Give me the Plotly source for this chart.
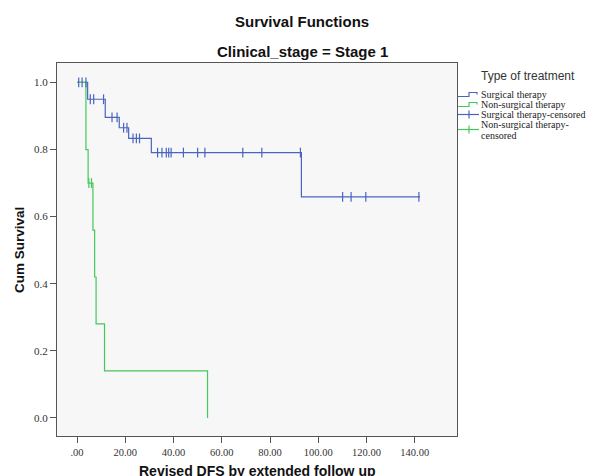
import plotly.graph_objects as go

# ---------------- data ----------------
surg_times = [0, 4.4, 11.7, 17.5, 21.4, 30.8, 93.0, 142.2]
surg_surv = [1.0, 0.950, 0.896, 0.865, 0.833, 0.791, 0.659, 0.659]
surg_censored = [0.7, 2.1, 3.7, 5.5, 6.9, 11.0, 14.5, 16.6, 19.3, 20.7, 23.2, 24.6,
                 25.9, 33.4, 35.2, 37.0, 38.0, 39.0, 44.1, 50.0, 53.0, 68.7, 76.6,
                 92.6, 110.1, 113.6, 119.7, 141.7]

nonsurg_times = [0, 3.7, 4.6, 6.6, 7.3, 7.9, 11.4, 54.1]
nonsurg_surv = [1.0, 0.8, 0.7, 0.56, 0.42, 0.28, 0.14, 0.0]
nonsurg_censored = [4.9, 6.0]

x_ticks = [0, 20, 40, 60, 80, 100, 120, 140]
x_ticklabels = [".00", "20.00", "40.00", "60.00", "80.00", "100.00", "120.00", "140.00"]
y_ticks = [0.0, 0.2, 0.4, 0.6, 0.8, 1.0]
y_ticklabels = ["0.0", "0.2", "0.4", "0.6", "0.8", "1.0"]

legend_title = "Type of treatment"
legend_labels = ["Surgical therapy", "Non-surgical therapy",
                 "Surgical therapy-censored", "Non-surgical therapy-"]
legend_wrap = "censored"

BLUE = "#4a64c2"
GREEN = "#45c85a"


def step_value(times, surv, t):
    v = surv[0]
    for ti, si in zip(times, surv):
        if ti <= t:
            v = si
    return v


# ---------------- geometry (page body has an 8px margin) ----------------
OFF = 8
W, H = 595 - OFF, 476 - OFF
L, R, T, B = 57, 457, 63, 436   # plot box in window pixels


def px(x):
    return (x - L) / (R - L)


def py(y):
    return (B - y) / (B - T)


fig = go.Figure()

fig.add_trace(go.Scatter(x=surg_times, y=surg_surv, mode="lines",
                         line=dict(color=BLUE, width=1.2, shape="hv"),
                         showlegend=False, hoverinfo="skip"))
fig.add_trace(go.Scatter(x=nonsurg_times, y=nonsurg_surv, mode="lines",
                         line=dict(color=GREEN, width=1.2, shape="hv"),
                         showlegend=False, hoverinfo="skip"))
fig.add_trace(go.Scatter(x=surg_censored,
                         y=[step_value(surg_times, surg_surv, t) for t in surg_censored],
                         mode="markers",
                         marker=dict(symbol="line-ns", size=7,
                                     line=dict(color=BLUE, width=1.2)),
                         showlegend=False, hoverinfo="skip"))
fig.add_trace(go.Scatter(x=nonsurg_censored,
                         y=[step_value(nonsurg_times, nonsurg_surv, t) for t in nonsurg_censored],
                         mode="markers",
                         marker=dict(symbol="line-ns", size=7,
                                     line=dict(color=GREEN, width=1.2)),
                         showlegend=False, hoverinfo="skip"))

shapes = []
annotations = []

# custom legend
annotations.append(dict(text=legend_title, x=px(479), y=py(76), xref="paper", yref="paper",
                        xanchor="left", yanchor="middle", showarrow=False,
                        font=dict(family="Liberation Sans, Arial", size=12, color="#333")))
rows_y = [94.5, 104.5, 114.5, 124.5]
icon_y = [94.5, 104.5, 114.5, 129.5]
colors = [BLUE, GREEN, BLUE, GREEN]
LEG_FONT = dict(family="Liberation Serif, Times New Roman", size=10, color="#222")
for i, (lab, c, ry, iy) in enumerate(zip(legend_labels, colors, rows_y, icon_y)):
    annotations.append(dict(text=lab, x=px(479), y=py(ry), xref="paper", yref="paper",
                            xanchor="left", yanchor="middle", showarrow=False, align="left",
                            font=LEG_FONT))
    if i < 2:
        pts = [(458, iy + 2), (469, iy + 2), (469, iy - 2), (477, iy - 2), (477, iy)]
        path = "M " + " L ".join(f"{px(a):.5f},{py(b):.5f}" for a, b in pts)
        shapes.append(dict(type="path", path=path, xref="paper", yref="paper",
                           line=dict(color=c, width=1.2)))
    else:
        shapes.append(dict(type="line", x0=px(458), x1=px(479), y0=py(iy), y1=py(iy),
                           xref="paper", yref="paper", line=dict(color=c, width=1.2)))
        shapes.append(dict(type="line", x0=px(469), x1=px(469), y0=py(iy - 4), y1=py(iy + 4),
                           xref="paper", yref="paper", line=dict(color=c, width=1.2)))
annotations.append(dict(text=legend_wrap, x=px(479), y=py(135.5), xref="paper", yref="paper",
                        xanchor="left", yanchor="middle", showarrow=False, align="left",
                        font=LEG_FONT))

# titles
TITLE_FONT = dict(family="Liberation Sans, Arial", size=15, color="#111")
annotations.append(dict(text="<b>Survival Functions</b>", x=px(302), y=py(22),
                        xref="paper", yref="paper", xanchor="center", yanchor="middle",
                        showarrow=False, font=TITLE_FONT))
annotations.append(dict(text="<b>Clinical_stage = Stage 1</b>", x=px(302), y=py(52),
                        xref="paper", yref="paper", xanchor="center", yanchor="middle",
                        showarrow=False, font=TITLE_FONT))
annotations.append(dict(text="<b>Revised DFS by extended follow up</b>", x=px(257), y=py(471),
                        xref="paper", yref="paper", xanchor="center", yanchor="middle",
                        showarrow=False,
                        font=dict(family="Liberation Sans, Arial", size=14, color="#111")))
annotations.append(dict(text="<b>Cum Survival</b>", x=px(19), y=py(250),
                        xref="paper", yref="paper", xanchor="center", yanchor="middle",
                        showarrow=False, textangle=-90,
                        font=dict(family="Liberation Sans, Arial", size=13.5, color="#111")))

fig.update_layout(
    width=W, height=H,
    margin=dict(l=L - OFF, r=595 - R, t=T - OFF, b=476 - B, autoexpand=False),
    paper_bgcolor="white", plot_bgcolor="#f7f7f7",
    shapes=shapes, annotations=annotations, showlegend=False,
)
fig.update_xaxes(range=[-8.3, 157.5], tickvals=x_ticks, ticktext=x_ticklabels,
                 showgrid=False, zeroline=False, showline=True, mirror=True,
                 linecolor="#555", linewidth=1, ticks="outside", ticklen=6,
                 tickcolor="#555",
                 tickfont=dict(family="Liberation Serif, Times New Roman", size=10.5, color="#333"))
fig.update_yaxes(range=[-0.054, 1.058], tickvals=y_ticks, ticktext=y_ticklabels,
                 showgrid=False, zeroline=False, showline=True, mirror=True,
                 linecolor="#555", linewidth=1, ticks="outside", ticklen=6,
                 tickcolor="#555",
                 tickfont=dict(family="Liberation Serif, Times New Roman", size=11, color="#333"))

fig.write_html("out.html")
